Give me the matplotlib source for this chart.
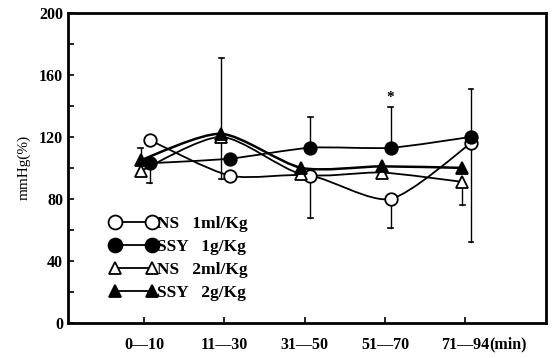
import numpy as np
import matplotlib
matplotlib.use("Agg")
import matplotlib.pyplot as plt
from matplotlib.path import Path
from matplotlib.patches import PathPatch
from matplotlib.lines import Line2D

# time windows after dosing
periods = ["0\u201410", "11\u201430", "31\u201450", "51\u201470", "71\u201494"]

# mean mmHg (%) per group
ns_1ml = [118, 95, 95, 80, 116]
ssy_1g = [103, 106, 113, 113, 120]
ns_2ml = [98, 120, 96, 97, 91]
ssy_2g = [105, 122, 100, 101, 100]

# error bar ends (None = not drawn)
ns_1ml_low = [None, None, 68, 61, 52]
ssy_1g_up = [None, None, 133, 139, 151]
ssy_1g_low = [90, None, None, None, None]
ns_2ml_low = [None, 93, None, None, 76]
ssy_2g_up = [113, 171, None, None, None]

plt.rcParams['font.family'] = ['Liberation Serif', 'DejaVu Serif']


def smooth_path(xs, ys):
    # catmull-rom tangents turned into cubic bezier segments
    pts = np.column_stack([xs, ys]).astype(float)
    n = len(pts)
    verts = [pts[0]]
    codes = [Path.MOVETO]
    for i in range(n - 1):
        p0 = pts[i - 1] if i > 0 else pts[i]
        p1 = pts[i]
        p2 = pts[i + 1]
        p3 = pts[i + 2] if i + 2 < n else pts[i + 1]
        c1 = p1 + (p2 - p0) / 8.0
        c2 = p2 - (p3 - p1) / 8.0
        verts += [c1, c2, p2]
        codes += [Path.CURVE4] * 3
    return Path(verts, codes)


def draw_bars(ax, xs, ys, ends):
    for x, y, e in zip(xs, ys, ends):
        if e is None:
            continue
        ax.plot([x, x], [y, e], color="black", lw=1.0, zorder=2)
        ax.plot([x - 0.03, x + 0.03], [e, e], color="black", lw=1.2, zorder=2)


fig = plt.figure(figsize=(5.55, 3.58), dpi=100)
ax = fig.add_axes([0.1225, 0.098, 0.8615, 0.866])

idx = np.arange(len(periods))
circ_x = idx + 0.07
tri_x = idx - 0.04

series = [
    (circ_x, ns_1ml, "o", "white", 9, 1.3, "NS   1ml/Kg"),
    (circ_x, ssy_1g, "o", "black", 9, 1.3, "SSY   1g/Kg"),
    (tri_x, ns_2ml, "^", "white", 8, 1.3, "NS   2ml/Kg"),
    (tri_x, ssy_2g, "^", "black", 8, 1.8, "SSY   2g/Kg"),
]

draw_bars(ax, circ_x, ns_1ml, ns_1ml_low)
draw_bars(ax, circ_x, ssy_1g, ssy_1g_up)
draw_bars(ax, circ_x, ssy_1g, ssy_1g_low)
draw_bars(ax, tri_x, ns_2ml, ns_2ml_low)
draw_bars(ax, tri_x, ssy_2g, ssy_2g_up)

handles = []
for xs, ys, m, fc, ms, lw, lab in series:
    ax.add_patch(PathPatch(smooth_path(xs, ys), fill=False, lw=lw,
                           edgecolor="black", zorder=3))
    ax.plot(xs, ys, ls="none", marker=m, ms=ms, mfc=fc, mec="black",
            mew=1.3, zorder=4)
    handles.append(Line2D([0], [0], color="black", lw=1.3, marker=m,
                          ms=ms + 1, mfc=fc, mec="black", mew=1.3, label=lab))

# significance mark
ax.text(circ_x[3], ssy_1g_up[3] + 2, "*", ha="center", va="bottom",
        fontsize=11, fontweight="bold")

leg = ax.legend(handles=handles, loc="lower left", bbox_to_anchor=(0.055, 0.02),
                frameon=False, numpoints=2, handlelength=2.7, handletextpad=0.0,
                labelspacing=0.4, prop={"size": 12.5, "weight": "bold"})

ax.set_xlim(-0.946, 5.006)
ax.set_ylim(0, 200)
ax.set_xticks(idx)
ax.set_xticklabels(periods, fontsize=11.5, fontweight="bold")
ax.set_yticks(np.arange(0, 201, 40))
ax.set_yticks(np.arange(20, 200, 40), minor=True)
ax.tick_params(axis="y", labelsize=11.5, direction="in", length=4, width=1.2)
ax.tick_params(axis="y", which="minor", direction="in", length=4, width=1.2)
ax.tick_params(axis="x", direction="in", length=4, width=1.2, pad=10)
for lab in ax.get_yticklabels():
    lab.set_fontweight("bold")
for sp in ax.spines.values():
    sp.set_linewidth(2.0)
ax.set_ylabel("mmHg(%)", fontsize=11, labelpad=6)

# unit written straight after the last period label
last = ax.get_xticklabels()[-1]
ax.annotate("(min)", xy=(1, 0.5), xycoords=last, ha="left", va="center",
            fontsize=11.5, fontweight="bold")

fig.savefig("out.png", dpi=100)
